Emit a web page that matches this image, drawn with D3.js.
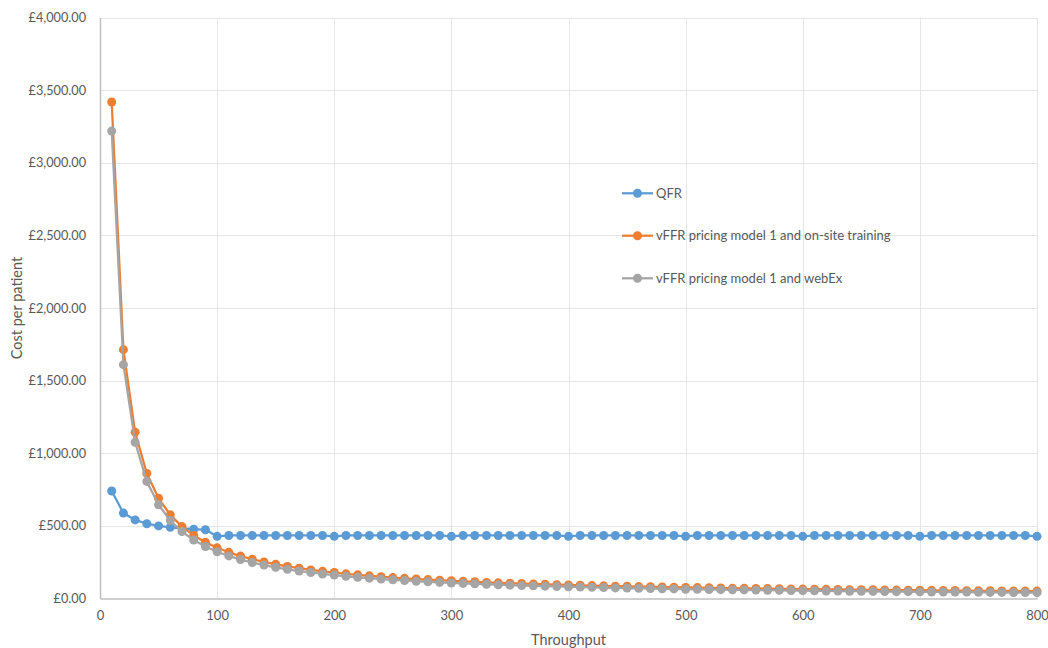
<!DOCTYPE html>
<html>
<head>
<meta charset="utf-8">
<script src="https://cdn.jsdelivr.net/npm/d3@7"></script>
<style>
  html, body { margin: 0; padding: 0; background: #fff; }
  svg { display: block; }
  text { font-family: Lato, "Open Sans", sans-serif; fill: #595959; }
</style>
</head>
<body>
<svg id="chart" width="1048" height="648"></svg>
<script>
const throughput = [10,20,30,40,50,60,70,80,90,100,110,120,130,140,150,160,170,180,190,200,
  210,220,230,240,250,260,270,280,290,300,310,320,330,340,350,360,370,380,390,400,
  410,420,430,440,450,460,470,480,490,500,510,520,530,540,550,560,570,580,590,600,
  610,620,630,640,650,660,670,680,690,700,710,720,730,740,750,760,770,780,790,800];

const qfr = [740,588,541,515,500,490,483,477,473,428,434,434,434,434,434,434,434,434,434,428,
  434,434,434,434,434,434,434,434,434,428,434,434,434,434,434,434,434,434,434,428,
  434,434,434,434,434,434,434,434,434,428,434,434,434,434,434,434,434,434,434,428,
  434,434,434,434,434,434,434,434,434,428,434,434,434,434,434,434,434,434,434,428];

const vffrOnsite = [3418,1713,1145,861,690,576,495,434,387,349,318,292,270,252,235,221,209,197,187,179,
  170,163,156,150,144,139,134,130,126,122,118,115,111,108,105,103,100,98,95,93,
  91,89,87,85,84,82,81,79,78,76,75,74,72,71,70,69,68,67,66,65,
  64,63,62,61,60,60,59,58,57,57,56,55,55,54,53,53,52,52,51,51];

const vffrWebex = [3218,1610,1076,806,645,537,461,403,358,322,293,268,248,230,215,201,189,179,169,161,
  153,146,140,134,129,124,119,115,111,107,104,101,98,95,92,89,87,85,83,81,
  79,77,75,73,72,70,69,67,66,64,63,62,61,60,59,58,57,56,55,54,
  53,52,51,50,50,49,48,47,47,46,45,45,44,44,43,42,42,41,41,40];

const seriesNames = ["QFR", "vFFR pricing model 1 and on-site training", "vFFR pricing model 1 and webEx"];
const seriesColors = ["#5B9BD5", "#ED7D31", "#A5A5A5"];
const yTicks = [0,500,1000,1500,2000,2500,3000,3500,4000];
const xTicks = [0,100,200,300,400,500,600,700,800];
const xTitle = "Throughput";
const yTitle = "Cost per patient";

const svg = d3.select("#chart");
const margin = {left: 100, right: 11, top: 17.5, bottom: 49.5};
const W = 1048, H = 648;

const x = d3.scaleLinear().domain([0, 800]).range([margin.left, W - margin.right]);
const y = d3.scaleLinear().domain([0, 4000]).range([H - margin.bottom, margin.top]);

// gridlines
svg.append("g").selectAll("line.h").data(yTicks.slice(1)).join("line")
  .attr("x1", x(0)).attr("x2", x(800))
  .attr("y1", d => Math.round(y(d)) + 0.5).attr("y2", d => Math.round(y(d)) + 0.5)
  .attr("stroke", "#e6e6e6").attr("stroke-width", 1);
svg.append("g").selectAll("line.v").data(xTicks.slice(1)).join("line")
  .attr("y1", y(0)).attr("y2", y(4000))
  .attr("x1", d => Math.round(x(d)) + 0.5).attr("x2", d => Math.round(x(d)) + 0.5)
  .attr("stroke", "#e6e6e6").attr("stroke-width", 1);

// axes
const fmt = d => "£" + d3.format(",.2f")(d);
const yAxis = svg.append("g").attr("transform", `translate(${x(0)},0)`)
  .call(d3.axisLeft(y).tickValues(yTicks).tickFormat(fmt).tickSize(0).tickPadding(14));
yAxis.select(".domain").attr("stroke", "#bfbfbf").attr("stroke-width", 1.5);
yAxis.selectAll("text").style("font-family", "Lato, sans-serif").style("font-size", "12.7px").attr("fill", "#595959");

const xAxis = svg.append("g").attr("transform", `translate(0,${y(0)})`)
  .call(d3.axisBottom(x).tickValues(xTicks).tickFormat(d3.format("d")).tickSize(0).tickPadding(12));
xAxis.select(".domain").attr("stroke", "#bfbfbf").attr("stroke-width", 1.5);
xAxis.selectAll("text").style("font-family", "Lato, sans-serif").style("font-size", "13px").attr("fill", "#595959");

// titles
svg.append("text").attr("x", (x(0) + x(800)) / 2).attr("y", 640).attr("dy", "0.35em")
  .attr("text-anchor", "middle").style("font-size", "14.5px").text(xTitle);
svg.append("text").attr("transform", `translate(17,${(y(0) + y(4000)) / 2}) rotate(-90)`)
  .attr("dy", "0.35em").attr("text-anchor", "middle").style("font-size", "14.5px").text(yTitle);

// series
const allSeries = [qfr, vffrOnsite, vffrWebex];
const line = d3.line().x((d, i) => x(throughput[i])).y(d => y(d));
allSeries.forEach((vals, k) => {
  const g = svg.append("g");
  g.append("path").datum(vals).attr("d", line)
    .attr("fill", "none").attr("stroke", seriesColors[k]).attr("stroke-width", 2.25)
    .attr("stroke-linejoin", "round");
  g.selectAll("circle").data(vals).join("circle")
    .attr("cx", (d, i) => x(throughput[i])).attr("cy", d => y(d)).attr("r", 4.5)
    .attr("fill", seriesColors[k]);
});

// legend
const legendY = [193.3, 235.7, 278.3];
seriesNames.forEach((name, k) => {
  const g = svg.append("g").attr("transform", `translate(622,${legendY[k]})`);
  g.append("line").attr("x1", 0).attr("x2", 31).attr("y1", 0).attr("y2", 0)
    .attr("stroke", seriesColors[k]).attr("stroke-width", 2.25);
  g.append("circle").attr("cx", 15.5).attr("cy", 0).attr("r", 4.5).attr("fill", seriesColors[k]);
  g.append("text").attr("x", 34).attr("y", 0).attr("dy", "0.35em")
    .style("font-size", "13px").text(name);
});
</script>
</body>
</html>
